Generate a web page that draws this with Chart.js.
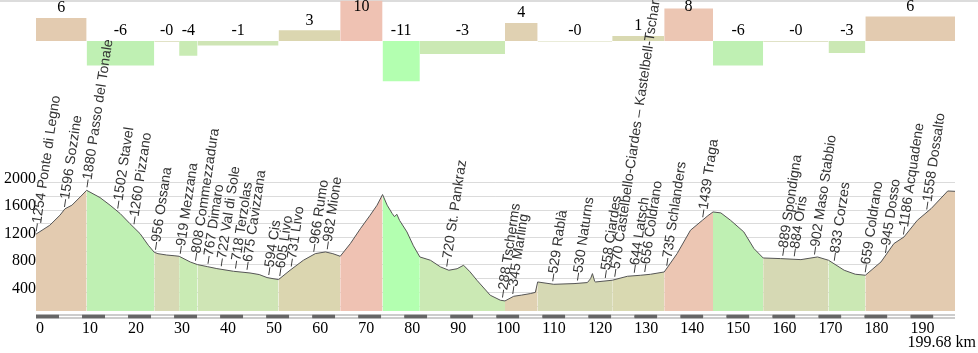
<!DOCTYPE html>
<html lang="en">
<head>
  <meta charset="UTF-8" />
  <title>Profilo altimetrico</title>
  <script src="https://cdn.jsdelivr.net/npm/chart.js"></script>
  <style>
    body {
      margin: 0;
      background: #fff;
    }
    canvas {
      display: block;
    }
  </style>
</head>
<body>
  <canvas id="profile" width="978" height="353"></canvas>

  <script>
    // route length
    const TOTAL_KM = 199.68;

    // elevation profile (km / m)
    const PROFILE_KM = [0, 3.0, 5.2, 6.3, 7.8, 9.6, 11.0, 13.9, 16.1, 18.3, 20.4, 22.6, 24.4, 25.7, 26.5, 28.4, 30.0, 31.1,
      33.5, 35.1, 37.3, 39.3, 42.9, 46.5, 48.5, 50.2, 51.5, 52.7, 55.2, 58.1, 60.7, 62.9, 64.5, 66.1, 68.3, 70.5, 72.6,
      74.1, 75.3, 76.3, 77.4, 77.9, 78.4, 79.0, 80.6, 82.0, 83.4, 85.7, 87.9, 89.7, 91.5, 92.9, 94.3, 95.8, 98.7, 100.9,
      101.9, 103.8, 105.5, 107.4, 108.5, 109.0, 112.5, 116.9, 119.8, 120.5, 120.9, 121.4, 121.6, 125.2, 128.5, 131.4,
      133.5, 136.5, 139.3, 142.2, 144.8, 146.0, 147.1, 148.8, 150.9, 153.8, 156.0, 158.0, 161.8, 166.2, 169.8, 172.2,
      175.6, 178.0, 180.2, 183.6, 186.4, 188.6, 191.5, 194.5, 198.1, 199.68];
    const PROFILE_ELEV = [1250, 1380, 1526, 1620, 1672, 1793, 1890, 1784, 1672, 1550, 1404, 1258, 1088, 985, 965, 945, 935, 927,
      844, 805, 775, 747, 708, 683, 660, 616, 600, 587, 723, 869, 966, 990, 965, 927, 1112, 1331, 1526,
      1672, 1828, 1672, 1550, 1505, 1540, 1450, 1282, 1080, 917, 869, 771, 723, 745, 796, 700, 577, 358, 285,
      275, 343, 360, 382, 400, 552, 518, 528, 543, 600, 674, 560, 552, 577, 635, 650,
      664, 698, 966, 1307, 1453, 1520, 1574, 1560, 1453, 1282, 1039, 902, 893, 878, 917, 869,
      723, 665, 650, 844, 1112, 1209, 1453, 1623, 1880, 1875];

    // gradient segments: start km and average gradient (%)
    const SEG_START = [0, 11.0, 25.7, 31.1, 35.1, 52.7, 66.1, 75.3, 83.4, 101.9, 109.0, 125.2, 136.5, 147.1, 158.0, 172.2, 180.2];
    const GRADE = [5.6, -6.0, -0.2, -3.6, -1.1, 2.6, 10.0, -10.8, -3.2, 4.4, -0.1, 1.2, 7.9, -6.0, -0.2, -2.9, 6.0];

    // waypoints
    const PLACE_KM = [0, 6.1, 11.0, 17.7, 21.2, 25.9, 31.3, 34.6, 37.3, 40.2, 43.3, 45.8, 50.5, 52.9, 55.4, 60.3, 63.2,
      89.2, 101.3, 103.5, 112.2, 117.6, 123.6, 125.7, 129.9, 132.2, 137.0, 144.8, 162.2, 164.7, 169.1, 173.4,
      180.1, 184.5, 188.4, 193.5];
    const PLACE_ELEV = [1254, 1596, 1880, 1502, 1260, 956, 919, 808, 767, 722, 718, 675, 594, 605, 731, 966, 982,
      720, 288, 345, 529, 530, 558, 570, 644, 656, 735, 1439, 889, 884, 902, 833,
      659, 945, 1186, 1558];
    const PLACE_NAME = ['Ponte di Legno', 'Sozzine', 'Passo del Tonale', 'Stavel', 'Pizzano', 'Ossana', 'Mezzana',
      'Commezzadura', 'Dimaro', 'Val di Sole', 'Terzolas', 'Cavizzana', 'Cis', 'Livo', 'Livo', 'Rumo', 'Mione',
      'St. Pankraz', 'Tscherms', 'Marling', 'Rablà', 'Naturns', 'Ciardes',
      'Castelbello-Ciardes – Kastelbell-Tschars', 'Latsch', 'Coldrano', 'Schlanders', 'Traga', 'Spondigna', 'Oris',
      'Maso Stabbio', 'Corzes', 'Coldrano', 'Dosso', 'Acquadene', 'Dossalto'];

    // axis ticks
    const X_TICKS = [0, 10, 20, 30, 40, 50, 60, 70, 80, 90, 100, 110, 120, 130, 140, 150, 160, 170, 180, 190];
    const Y_GRID = [200, 400, 600, 800, 1000, 1200, 1400, 1600, 1800, 2000];
    const Y_LABELS = [400, 800, 1200, 1600, 2000];

    // colours per gradient segment
    const BAND_COLORS = ['#e3cbb0', '#bff0b3', '#d7d9b4', '#c9ebb4', '#cfe5b5', '#dbd6b0', '#efc2b3', '#b3ffb0', '#cbe9b4',
      '#e0d1b2', '#d6d9b4', '#d9d9b1', '#ecc6b3', '#bff0b3', '#d6d9b4', '#cbe8b4', '#e3cbb0'];

    const GRADE_CLAMP = 9.8;
    const serif = "'Liberation Serif', 'Times New Roman', serif";
    const sans = "'Liberation Sans', Arial, sans-serif";

    function segIndex(km) {
      let i = 0;
      while (i + 1 < SEG_START.length && SEG_START[i + 1] <= km + 1e-6) i++;
      return i;
    }

    function elevAt(km) {
      for (let i = 1; i < PROFILE_KM.length; i++) {
        if (km <= PROFILE_KM[i]) {
          const t = (km - PROFILE_KM[i - 1]) / (PROFILE_KM[i] - PROFILE_KM[i - 1]);
          return PROFILE_ELEV[i - 1] + t * (PROFILE_ELEV[i] - PROFILE_ELEV[i - 1]);
        }
      }
      return PROFILE_ELEV[PROFILE_ELEV.length - 1];
    }

    const clampGrade = g => Math.max(-GRADE_CLAMP, Math.min(GRADE_CLAMP, g));

    const profilePoints = PROFILE_KM.map((km, i) => ({ x: km, y: PROFILE_ELEV[i] }));
    const gradePoints = SEG_START.map((km, i) => ({ x: km, y: clampGrade(GRADE[i]) }));
    gradePoints.push({ x: TOTAL_KM, y: clampGrade(GRADE[GRADE.length - 1]) });

    // extra drawing: top rule, km band, gradient values, place names
    const decorations = {
      id: 'decorations',
      beforeDatasetsDraw(chart) {
        const c = chart.ctx;
        c.save();
        c.fillStyle = '#dcdcdc';
        c.fillRect(0, 0, chart.width, 2);
        c.restore();
      },
      afterDraw(chart) {
        const c = chart.ctx;
        const xs = chart.scales.x;
        const ys = chart.scales.y;
        const gs = chart.scales.yg;
        const area = chart.chartArea;
        c.save();

        // km band under the plot
        const bandTop = area.bottom + 3.5;
        for (let k = 0, n = 0; k < TOTAL_KM; k += 5, n++) {
          const x0 = xs.getPixelForValue(k);
          const x1 = xs.getPixelForValue(Math.min(k + 5, TOTAL_KM));
          c.fillStyle = n % 2 === 0 ? '#666' : '#999';
          c.fillRect(x0, bandTop, x1 - x0, 4);
          if (n % 2 === 1) {
            c.fillStyle = '#fff';
            c.fillRect(x0, bandTop + 1, x1 - x0, 2);
          }
        }

        // gradient values
        c.font = '16px ' + serif;
        c.fillStyle = '#000';
        c.textAlign = 'center';
        c.textBaseline = 'middle';
        const base = gs.getPixelForValue(0);
        SEG_START.forEach((km, i) => {
          const end = i + 1 < SEG_START.length ? SEG_START[i + 1] : TOTAL_KM;
          const mid = (xs.getPixelForValue(km) + xs.getPixelForValue(end)) / 2;
          const top = Math.min(base, gs.getPixelForValue(clampGrade(GRADE[i])));
          c.fillText(GRADE[i].toFixed(0), mid, Math.max(7, top - 10));
        });

        // place names
        c.font = '14px ' + sans;
        c.fillStyle = '#333';
        c.textAlign = 'left';
        PLACE_KM.forEach((km, i) => {
          const x = xs.getPixelForValue(km);
          const y = ys.getPixelForValue(elevAt(km)) - 3;
          c.save();
          c.translate(x, y);
          c.rotate(-81.5 * Math.PI / 180);
          c.fillText('\u2013' + PLACE_ELEV[i] + ' ' + PLACE_NAME[i], 0, 0);
          c.restore();
        });

        // total distance
        c.font = '16px ' + serif;
        c.fillStyle = '#000';
        c.textAlign = 'right';
        c.fillText(TOTAL_KM + ' km', chart.width - 2, 343);
        c.restore();
      }
    };

    new Chart(document.getElementById('profile'), {
      type: 'line',
      data: {
        datasets: [
          {
            label: 'gradient',
            data: gradePoints,
            yAxisID: 'yg',
            stepped: true,
            fill: { value: 0 },
            borderWidth: 0,
            borderColor: 'transparent',
            backgroundColor: BAND_COLORS[0],
            pointRadius: 0,
            segment: {
              backgroundColor: ctx => BAND_COLORS[ctx.p0DataIndex]
            }
          },
          {
            label: 'elevation',
            data: profilePoints,
            yAxisID: 'y',
            fill: 'start',
            borderColor: '#555',
            borderWidth: 1,
            backgroundColor: BAND_COLORS[0],
            pointRadius: 0,
            segment: {
              backgroundColor: ctx => BAND_COLORS[segIndex(ctx.p0.parsed.x)]
            }
          }
        ]
      },
      options: {
        responsive: false,
        animation: false,
        layout: { padding: { left: 0, right: 23, top: 0, bottom: 0 } },
        plugins: {
          legend: { display: false },
          tooltip: { enabled: false }
        },
        scales: {
          x: {
            type: 'linear',
            min: 0,
            max: TOTAL_KM,
            grid: { display: false },
            border: { display: false },
            afterBuildTicks: s => { s.ticks = X_TICKS.map(v => ({ value: v })); },
            afterFit: s => { s.height = 42; s.paddingRight = 0; s.paddingLeft = 0; },
            ticks: {
              align: 'start',
              padding: 0,
              autoSkip: false,
              maxRotation: 0,
              color: '#000',
              font: { family: serif, size: 16 }
            }
          },
          y: {
            position: 'left',
            min: 128,
            max: 4668,
            z: 1,
            grid: { color: 'rgba(0,0,0,0.14)', drawTicks: false },
            border: { display: false },
            afterBuildTicks: s => { s.ticks = Y_GRID.map(v => ({ value: v })); },
            afterFit: s => { s.width = 36; s.paddingTop = 0; s.paddingBottom = 0; },
            ticks: {
              padding: 0,
              labelOffset: -4,
              autoSkip: false,
              color: '#000',
              font: { family: serif, size: 16 },
              callback: v => Y_LABELS.includes(v) ? String(v) : ''
            }
          },
          yg: {
            display: false,
            min: -65.85,
            max: 10
          }
        }
      },
      plugins: [decorations]
    });
  </script>
</body>
</html>
